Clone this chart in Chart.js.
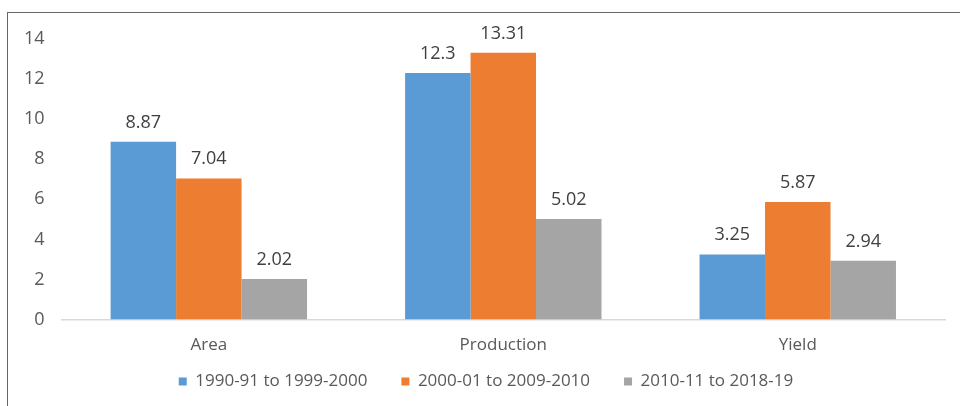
<!DOCTYPE html>
<html>
<head>
<meta charset="utf-8">
<script src="https://cdn.jsdelivr.net/npm/chart.js@4/dist/chart.umd.min.js"></script>
<style>
  html, body { margin: 0; padding: 0; background: #fff; }
  #wrap { position: relative; width: 960px; height: 406px; }
  #frame { position: absolute; left: 7px; top: 12px; right: 0; bottom: 0;
           border-left: 1.5px solid #666; border-top: 1.5px solid #666; }
  canvas { position: absolute; left: 0; top: 0; }
</style>
</head>
<body>
<div id="wrap">
  <div id="frame"></div>
  <canvas id="chart" width="960" height="406"></canvas>
</div>
<script>
const categories = ['Area', 'Production', 'Yield'];
const seriesNames = ['1990-91 to 1999-2000', '2000-01 to 2009-2010', '2010-11 to 2018-19'];
const period1 = [8.87, 12.3, 3.25];
const period2 = [7.04, 13.31, 5.87];
const period3 = [2.02, 5.02, 2.94];
const yTicks = [0, 2, 4, 6, 8, 10, 12, 14];

const colors = ['#5B9BD5', '#ED7D31', '#A5A5A5'];
const font = "'Open Sans', sans-serif";

// values above bars
const barValues = {
  id: 'barValues',
  afterDatasetsDraw(chart) {
    const ctx = chart.ctx;
    ctx.save();
    ctx.font = '18px ' + font;
    ctx.fillStyle = '#404040';
    ctx.textAlign = 'center';
    ctx.textBaseline = 'alphabetic';
    chart.data.datasets.forEach((ds, i) => {
      chart.getDatasetMeta(i).data.forEach((bar, j) => {
        ctx.fillText(String(ds.data[j]), bar.x, bar.y - 14);
      });
    });
    ctx.restore();
  }
};

// wide item spacing makes the legend box tall, so pull it back up
const legendShift = {
  id: 'legendShift',
  afterLayout(chart) {
    const lg = chart.legend;
    lg.top -= 31; lg.bottom -= 31;
    lg.left += 10; lg.right += 10;
  }
};

new Chart(document.getElementById('chart'), {
  type: 'bar',
  data: {
    labels: categories,
    datasets: [period1, period2, period3].map((d, i) => ({
      label: seriesNames[i],
      data: d,
      backgroundColor: colors[i],
      categoryPercentage: 0.667,
      barPercentage: 1
    }))
  },
  options: {
    responsive: false,
    animation: false,
    layout: { padding: { left: 7, right: 15, top: 39, bottom: -25 } },
    plugins: {
      tooltip: { enabled: false },
      legend: {
        position: 'bottom',
        labels: {
          boxWidth: 8,
          boxHeight: 8,
          padding: 34,
          color: '#595959',
          font: { family: font, size: 17 }
        }
      }
    },
    scales: {
      x: {
        grid: { display: false, drawTicks: false },
        border: { display: true, color: '#d9d9d9', width: 1.5 },
        ticks: { color: '#595959', padding: 15, font: { family: font, size: 17 } }
      },
      y: {
        min: 0,
        max: 14,
        afterBuildTicks(scale) { scale.ticks = yTicks.map(v => ({ value: v })); },
        grid: { display: false, drawTicks: false },
        border: { display: false },
        ticks: { color: '#595959', padding: 17, font: { family: font, size: 18 } }
      }
    }
  },
  plugins: [barValues, legendShift]
});
</script>
</body>
</html>
